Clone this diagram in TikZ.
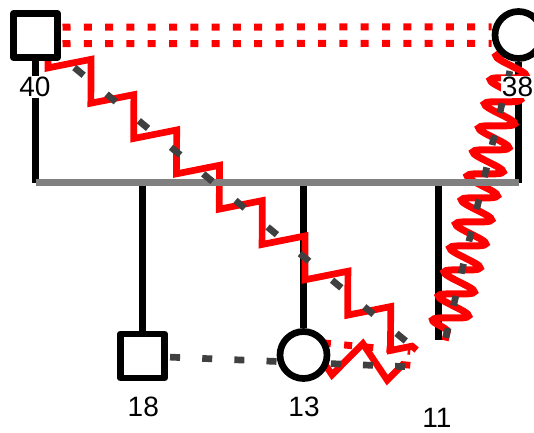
\documentclass[tikz,border=0pt]{standalone}
\usepackage{fontspec}
\setmainfont{Liberation Sans}
\usetikzlibrary{decorations.pathmorphing}
\pgfdeclarelayer{blklayer}
\pgfdeclarelayer{redlayer}
\pgfdeclarelayer{barlayer}
\pgfdeclarelayer{grylayer}
\pgfsetlayers{blklayer,redlayer,barlayer,grylayer,main}
\definecolor{dgray}{RGB}{64,64,64}
\definecolor{bgray}{RGB}{128,128,128}
\begin{document}
\begin{tikzpicture}[x=1pt,y=-1pt,
  person/.style={draw=black, line width=6.7pt, fill=white, inner sep=0pt, line join=round},
  male/.style={person, rectangle, minimum size=44pt},
  female/.style={person, circle, minimum size=47pt},
  hiddenp/.style={circle, draw=none, minimum size=50pt, outer sep=3.35pt, inner sep=0pt},
  lbl/.style={fill=white, inner sep=1pt, font=\fontsize{28}{30}\selectfont},
  blkline/.style={line width=6.7pt, draw=black},
  zz/.style={draw=red, line width=6.7pt, decorate,
    decoration={zigzag, segment length=55.5pt, amplitude=17pt, mirror, pre length=16.4pt}},
  sn/.style={draw=red, line width=7pt, decorate,
    decoration={snake, segment length=24.7pt, amplitude=17pt, pre length=5.4pt}},
  reddot/.style={draw=red, line width=7pt, dash pattern=on 8pt off 13.3pt},
  grydash/.style={draw=dgray, line width=6.7pt}
]
\useasboundingbox (0,0) rectangle (534,432);

% persons
\node[male]    (n40) at (35.5,35.5) {};
\node[female]  (n38) at (518.5,35) {};
\node[male]    (n18) at (142.5,356) {};
\node[female]  (n13) at (303.5,355) {};
\node[hiddenp] (n11) at (438.5,368) {};

% sibship bar
\coordinate (barL) at (35.5,182.5);
\coordinate (barR) at (518.5,182.5);

\begin{pgfonlayer}{blklayer}
  \draw[blkline] (n40) -- (n40 |- barL);
  \draw[blkline] (n38) -- (n38 |- barL);
  \draw[blkline] (n18 |- barL) -- (n18);
  \draw[blkline] (n13 |- barL) -- (n13);
  \draw[blkline] (n11 |- barL) -- (n11);
\end{pgfonlayer}

\begin{pgfonlayer}{redlayer}
  \draw[reddot, dash phase=19.65pt, transform canvas={yshift=8.25pt}] (n40) -- (n38);
  \draw[reddot, dash phase=19.65pt, transform canvas={yshift=-8.25pt}] (n40) -- (n38);
  \draw[zz] (n40.center) -- (n11);
  \draw[sn] (n38.center) -- (n11);
  \draw[zz] (n13.center) -- (n11);
  \draw[reddot, dash phase=1.8pt, transform canvas={yshift=14pt}] (n13.center) -- (n11);
\end{pgfonlayer}

\begin{pgfonlayer}{barlayer}
  \draw[draw=bgray, line width=6.7pt] (barL) -- (barR);
\end{pgfonlayer}

\begin{pgfonlayer}{grylayer}
  \draw[grydash, dash pattern=on 12pt off 29.76pt, dash phase=33.12pt] (n40.center) -- (n11);
  \draw[grydash, dash pattern=on 10pt off 23.04pt, dash phase=29.04pt] (n38.center) -- (n11);
  \draw[grydash, dash pattern=on 10pt off 22.17pt, dash phase=4.57pt] (n18.center) -- (n11);
\end{pgfonlayer}

% labels
\node[lbl] (t40) at (35,87) {40};
\node[lbl] (t38) at (517.5,87) {38};
\node[lbl] (t18) at (143.3,407) {18};
\node[lbl] (t13) at (304,407) {13};
\node[lbl] (t11) at (437,417.5) {11};
\end{tikzpicture}
\end{document}
